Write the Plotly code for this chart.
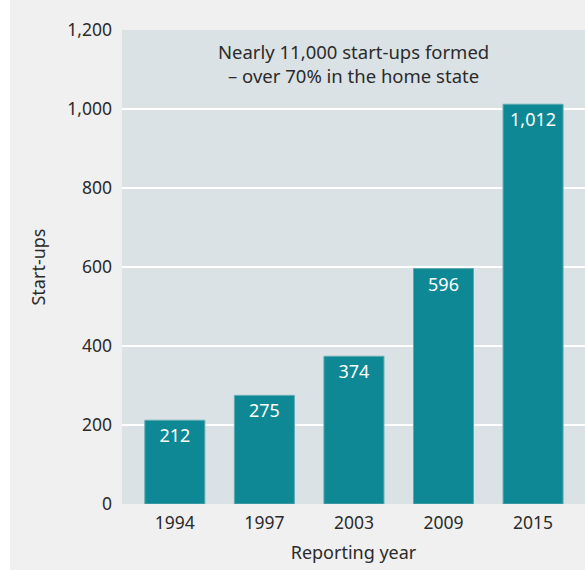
import plotly.graph_objects as go

# Start-ups reported in each survey year
years = ["1994", "1997", "2003", "2009", "2015"]
startups = [212, 275, 374, 596, 1012]
value_labels = ["212", "275", "374", "596", "1,012"]

y_ticks = [0, 200, 400, 600, 800, 1000, 1200]
y_tick_labels = ["0", "200", "400", "600", "800", "1,000", "1,200"]

W, H = 585, 570
ML, MR, MT, MB = 122, 0, 30, 66
plot_w = W - ML - MR

FONT = "'Noto Sans', sans-serif"
TEXT = "#2b2b2b"
TEAL = "#0e8894"

fig = go.Figure(
    go.Bar(
        x=years,
        y=startups,
        text=value_labels,
        textposition="inside",
        insidetextanchor="end",
        textfont=dict(family=FONT, size=18, color="white"),
        marker=dict(color=TEAL, line=dict(color="#5fa9b2", width=1)),
        width=0.67,
        cliponaxis=False,
        hoverinfo="skip",
    )
)

fig.update_layout(
    width=W,
    height=H,
    margin=dict(l=ML, r=MR, t=MT, b=MB),
    paper_bgcolor="#f0f0f0",
    plot_bgcolor="#dae2e5",
    showlegend=False,
    bargap=0.33,
    font=dict(family=FONT, size=17, color=TEXT),
    xaxis=dict(
        type="category",
        range=[-0.59, 4.58],
        showgrid=False,
        zeroline=False,
        showline=False,
        ticks="",
        ticklabelstandoff=6,
        tickfont=dict(size=17.5, color=TEXT),
        title=dict(text="Reporting year", font=dict(size=18, color=TEXT), standoff=13),
    ),
    yaxis=dict(
        range=[0, 1200],
        tickvals=y_ticks,
        ticktext=y_tick_labels,
        showgrid=True,
        gridcolor="white",
        gridwidth=2,
        zeroline=False,
        showline=False,
        ticks="",
        ticklabelstandoff=9,
        tickfont=dict(size=17.5, color=TEXT),
        title=dict(text="Start-ups", font=dict(size=18, color=TEXT), standoff=16),
    ),
    uniformtext=dict(mode=False),
)

# white strip along the left edge of the page
fig.add_shape(
    type="rect",
    xref="paper", yref="paper",
    x0=-ML / plot_w, x1=-(ML - 10) / plot_w,
    y0=-0.2, y1=1.1,
    fillcolor="white", line=dict(width=0), layer="below",
)

fig.add_annotation(
    text="Nearly 11,000 start-ups formed<br>– over 70% in the home state",
    xref="x", yref="paper",
    x=2, y=0.985,
    xanchor="center", yanchor="top",
    showarrow=False,
    align="center",
    font=dict(family=FONT, size=18.5, color=TEXT),
)

fig.write_html("out.html")
